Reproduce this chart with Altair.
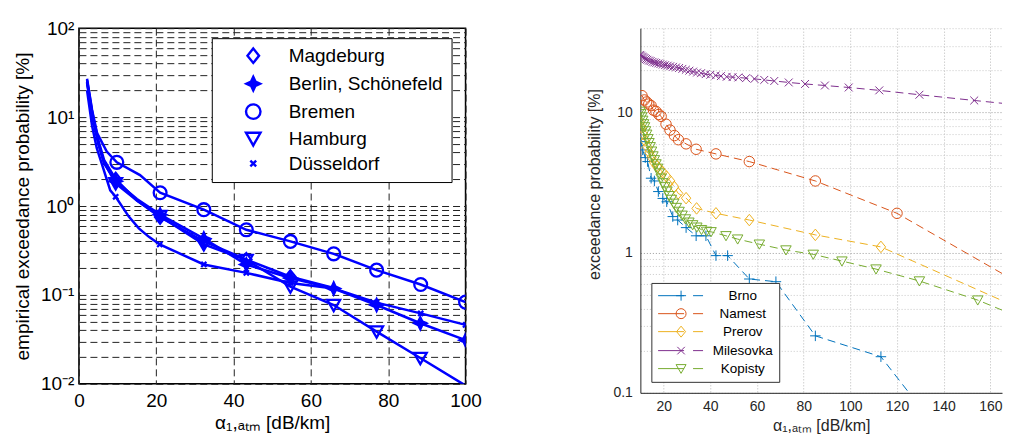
import altair as alt
import pandas as pd

# ---------------- left panel data (German stations) ----------------
L_SITES = ["Magdeburg", "Berlin, Schönefeld", "Bremen", "Hamburg", "Düsseldorf"]

mag_x = [2.1, 3.5, 5.0, 6.5, 9.5, 15.0, 21.0, 32.3, 43.3, 54.7, 65.9]
mag_y = [26, 11, 5.5, 3.3, 2.0, 1.15, 0.75, 0.40, 0.25, 0.16, 0.12]
mag_m = [0, 0, 0, 0, 1, 0, 1, 1, 1, 1, 0]

ber_x = [2.1, 3.5, 5.0, 6.5, 9.5, 15.0, 21.0, 32.3, 43.3, 54.7, 65.9, 77.0, 88.3, 100.0]
ber_y = [25, 10, 5.0, 3.0, 1.9, 1.2, 0.8, 0.43, 0.22, 0.155, 0.118, 0.077, 0.048, 0.031]
ber_m = [0, 0, 0, 0, 1, 0, 1, 1, 1, 1, 1, 1, 1, 1]

bre_x = [2.1, 3.4, 4.7, 7.2, 9.8, 15.8, 21.0, 32.3, 43.3, 54.7, 65.9, 77.0, 88.4, 100.0]
bre_y = [27, 12, 6.6, 4.1, 3.1, 2.23, 1.41, 0.91, 0.54, 0.40, 0.29, 0.19, 0.131, 0.083]
bre_m = [0, 0, 0, 0, 1, 0, 1, 1, 1, 1, 1, 1, 1, 1]

ham_x = [2.1, 3.5, 5.0, 6.5, 9.5, 15.0, 21.0, 32.3, 43.3, 54.7, 65.9, 77.0, 88.3, 99.6]
ham_y = [24, 10.5, 5.2, 3.1, 1.8, 1.15, 0.77, 0.37, 0.247, 0.124, 0.077, 0.0387, 0.0195, 0.0098]
ham_m = [0, 0, 0, 0, 1, 0, 1, 1, 1, 1, 1, 1, 1, 0]

due_x = [2.1, 3.4, 4.6, 5.9, 8.1, 9.5, 12.9, 15.5, 18.1, 20.9, 32.3, 43.3, 54.7, 65.9, 77.0, 88.4, 100.0]
due_y = [20, 8, 4.5, 3.0, 1.5, 1.27, 0.76, 0.56, 0.45, 0.37, 0.22, 0.177, 0.136, 0.118, 0.082, 0.062, 0.046]
due_m = [0, 0, 0, 0, 0, 1, 0, 0, 0, 1, 1, 1, 1, 1, 1, 1, 1]

L_XTICKS = [0, 20, 40, 60, 80, 100]
L_YTICKS = [0.01, 0.02, 0.03, 0.04, 0.05, 0.06, 0.07, 0.08, 0.09,
            0.1, 0.2, 0.3, 0.4, 0.5, 0.6, 0.7, 0.8, 0.9,
            1, 2, 3, 4, 5, 6, 7, 8, 9,
            10, 20, 30, 40, 50, 60, 70, 80, 90, 100]

# ---------------- right panel data (Czech stations) ----------------
R_SITES = ["Brno", "Namest", "Prerov", "Milesovka", "Kopisty"]
R_COLORS = ["#0072BD", "#D95319", "#EDB120", "#7E2F8E", "#77AC30"]

brno_x = [9.8, 10.3, 11.0, 12.1, 13.1, 14.6, 16.0, 17.7, 19.6, 21.3, 23.9, 26.0, 29.6, 33.9, 38.1,
          42.4, 47.4, 56.7, 68.1, 85.0, 113.1, 131.0]
brno_y = [6.5, 6.2, 5.41, 4.77, 4.47, 3.4, 3.25, 2.73, 2.44, 2.31, 1.81, 1.71, 1.51, 1.32, 1.32,
          0.953, 0.953, 0.649, 0.621, 0.255, 0.181, 0.075]

nam_x = [10.7, 11.7, 12.7, 13.6, 14.6, 15.6, 16.7, 17.9, 18.9, 21.0, 22.7, 24.6, 26.3, 29.6, 33.9,
         42.4, 56.7, 85.0, 120.0, 168.4]
nam_y = [13.2, 12.3, 11.9, 11.5, 11.2, 10.4, 10.2, 9.7, 9.4, 8.26, 7.5, 6.85, 6.4, 5.98, 5.47,
         5.07, 4.47, 3.25, 1.91, 0.66]

pre_x = [9.8, 10.5, 11.2, 12.0, 12.9, 13.8, 14.8, 15.9, 17.0, 18.3, 19.6, 21.2, 22.8, 24.5, 26.2,
         29.6, 34.1, 42.4, 56.7, 85.0, 113.1, 168.4]
pre_y = [8.5, 7.8, 7.0, 6.3, 5.7, 5.2, 4.8, 4.4, 4.15, 3.95, 3.75, 3.5, 3.25, 2.95, 2.65,
         2.45, 2.07, 1.91, 1.71, 1.34, 1.10, 0.43]

mil_x = [9.8, 10.2, 10.7, 11.2, 11.8, 12.4, 13.0, 13.7, 14.4, 15.2, 16.0, 16.8, 17.7, 18.6, 19.6,
         20.6, 21.7, 22.8, 24.0, 25.3, 26.6, 28.0, 29.5, 31.0, 32.6, 34.3, 36.0, 38.0, 40.0, 42.3,
         44.5, 47.0, 49.5, 52.0, 55.3, 58.9, 63.1, 67.4, 73.6, 80.6, 89.1, 99.3, 112.4, 129.6,
         153.1, 168.4]
mil_y = [25.8, 25.5, 25.1, 24.8, 24.5, 24.1, 23.8, 23.5, 23.3, 23.0, 22.8, 22.6, 22.4, 22.2, 22.0,
         21.8, 21.6, 21.4, 21.2, 21.0, 20.8, 20.5, 20.2, 19.9, 19.6, 19.3, 19.1, 18.8, 18.6, 18.4,
         18.2, 18.0, 17.9, 17.8, 17.6, 17.4, 17.1, 16.8, 16.4, 16.0, 15.6, 15.1, 14.4, 13.4,
         12.2, 11.5]

kop_x = [9.8, 10.2, 10.6, 11.0, 11.4, 11.8, 12.2, 12.7, 13.2, 13.7, 14.2, 14.8, 15.4, 16.0, 16.7,
         17.4, 18.1, 18.9, 19.7, 20.5, 21.4, 22.3, 23.3, 24.3, 25.4, 26.6, 27.9, 29.3, 30.8, 32.4,
         34.2, 36.2, 38.4, 40.3, 46.7, 51.7, 61.0, 72.4, 84.1, 96.4, 111.0, 129.6, 154.6, 168.4]
kop_y = [10.2, 9.8, 9.3, 8.8, 8.3, 7.9, 7.4, 7.0, 6.5, 6.1, 5.7, 5.3, 4.9, 4.6, 4.3,
         4.0, 3.7, 3.4, 3.15, 2.95, 2.75, 2.55, 2.4, 2.25, 2.1, 1.97, 1.85, 1.74, 1.65, 1.58,
         1.52, 1.46, 1.42, 1.41, 1.32, 1.25, 1.15, 1.045, 0.973, 0.871, 0.764, 0.628, 0.459, 0.369]

R_XTICKS = [20, 40, 60, 80, 100, 120, 140, 160]
R_YTICKS = [0.1, 0.2, 0.3, 0.4, 0.5, 0.6, 0.7, 0.8, 0.9,
            1, 2, 3, 4, 5, 6, 7, 8, 9,
            10, 20, 30, 40]

# ---------------- build tables ----------------
def table(site, xs, ys, ms=None):
    return pd.DataFrame({"x": xs, "y": ys, "site": site,
                         "m": ms if ms is not None else [1] * len(xs)})

dfl = pd.concat([table("Magdeburg", mag_x, mag_y, mag_m),
                 table("Berlin, Schönefeld", ber_x, ber_y, ber_m),
                 table("Bremen", bre_x, bre_y, bre_m),
                 table("Hamburg", ham_x, ham_y, ham_m),
                 table("Düsseldorf", due_x, due_y, due_m)], ignore_index=True)

dfr = pd.concat([table("Brno", brno_x, brno_y),
                 table("Namest", nam_x, nam_y),
                 table("Prerov", pre_x, pre_y),
                 table("Milesovka", mil_x, mil_y),
                 table("Kopisty", kop_x, kop_y)], ignore_index=True)

FONT = "Liberation Sans"
BLUE = "#0000FF"

# ---------------- left panel ----------------
STAR = "M0,-0.95L0.3,-0.3L0.95,0L0.3,0.3L0,0.95L-0.3,0.3L-0.95,0L-0.3,-0.3Z"
L_SHAPES = [
    "M0,-1L0.8,0L0,1L-0.8,0Z",
    STAR + "M0,-0.6V0.6M-0.6,0H0.6M-0.2,-0.2H0.2V0.2H-0.2Z",
    "M1,0A1,1,0,1,1,-1,0A1,1,0,1,1,1,0Z",
    "M-1,-0.8L1,-0.8L0,0.95Z",
    "M-0.4,-0.4L0.4,0.4M-0.4,0.4L0.4,-0.4",
]

xl = alt.X("x:Q", scale=alt.Scale(domain=[0, 100], nice=False),
           axis=alt.Axis(values=L_XTICKS, grid=True, gridDash=[7, 4], gridColor="#222222",
                         gridWidth=1, domain=False, ticks=False, labelFont=FONT,
                         labelFontSize=19, labelColor="black", labelPadding=8,
                         labelFlush=False,
                         title="α₁,ₐₜₘ [dB/km]", titleFont=FONT, titleFontSize=19,
                         titleFontWeight="normal", titleColor="black", titlePadding=3))
yl = alt.Y("y:Q", scale=alt.Scale(type="log", domain=[0.01, 100], nice=False),
           axis=alt.Axis(values=L_YTICKS, grid=True, gridDash=[7, 4], gridColor="#222222",
                         gridWidth=1, domain=False, ticks=False, labelFont=FONT,
                         labelFontSize=19, labelColor="black", labelPadding=5,
                         labelFlush=False,
                         labelExpr="datum.value==100?'10²':datum.value==10?'10¹':datum.value==1?'10⁰':datum.value==0.1?'10⁻¹':datum.value==0.01?'10⁻²':''",
                         title="empirical exceedance probability [%]", titleFont=FONT,
                         titleFontSize=19, titleFontWeight="normal", titleColor="black",
                         titlePadding=8))

leg_l = alt.Legend(orient="none", legendX=133, legendY=10, title=None, labelFont=FONT,
                   labelFontSize=19, labelColor="black", symbolSize=210,
                   symbolStrokeWidth=2.4, symbolStrokeColor=BLUE,
                   symbolFillColor="transparent", fillColor="white",
                   strokeColor="black", padding=8, rowPadding=3, symbolOffset=24,
                   labelOffset=26)

base_l = alt.Chart(dfl)
lines_l = base_l.mark_line(color=BLUE, strokeWidth=2.5, clip=True).encode(
    x=xl, y=yl, detail="site:N")
pts_l = base_l.transform_filter("datum.m == 1").mark_point(
    filled=False, stroke=BLUE, color=BLUE, strokeWidth=2.3, size=165, opacity=1,
    clip=True).encode(
    x=xl, y=yl,
    shape=alt.Shape("site:N", scale=alt.Scale(domain=L_SITES, range=L_SHAPES), legend=leg_l))
fill_l = base_l.transform_filter("datum.m == 1 && datum.site == 'Berlin, Schönefeld'").mark_point(
    filled=True, color=BLUE, shape=STAR, size=165, opacity=1, clip=True).encode(x=xl, y=yl)

left = alt.layer(lines_l, pts_l, fill_l).properties(
    width=387, height=356, view=alt.ViewBackground(stroke="black", strokeWidth=1.5))

# ---------------- right panel ----------------
R_SHAPES = [
    "M-1,0H1M0,-1V1",
    "M1,0A1,1,0,1,1,-1,0A1,1,0,1,1,1,0Z",
    "M0,-1.1L0.9,0L0,1.1L-0.9,0Z",
    "M-0.75,-0.75L0.75,0.75M-0.75,0.75L0.75,-0.75",
    "M-1,-0.8L1,-0.8L0,0.95Z",
]
LINE_PART = "M-4.6,0H0.6M2.4,0H4.4"
R_LEG_SHAPES = [LINE_PART + s for s in R_SHAPES]

xr = alt.X("x:Q", scale=alt.Scale(domain=[10, 165], nice=False),
           axis=alt.Axis(values=R_XTICKS, grid=True, gridDash=[1, 2], gridColor="#b8b8b8",
                         gridWidth=1, domain=True, domainColor="#262626", ticks=False,
                         labelFont=FONT, labelFontSize=14, labelColor="#262626",
                         labelPadding=7, labelFlush=False,
                         title="α₁,ₐₜₘ [dB/km]", titleFont=FONT,
                         titleFontSize=16, titleFontWeight="normal", titleColor="#262626",
                         titlePadding=4))
yr = alt.Y("y:Q", scale=alt.Scale(type="log", domain=[0.1, 40], nice=False),
           axis=alt.Axis(values=R_YTICKS, grid=True, gridDash=[1, 2],
                         gridColor={"condition": {"test": "datum.value==1 || datum.value==10",
                                                  "value": "#9a9a9a"},
                                    "value": "#c8c8c8"},
                         gridWidth=1, domain=True, domainColor="#262626", ticks=False,
                         labelFont=FONT, labelFontSize=14, labelColor="#262626",
                         labelPadding=8, labelFlush=False,
                         labelExpr="datum.value==0.1?'0.1':datum.value==1?'1':datum.value==10?'10':''",
                         title="exceedance probability [%]", titleFont=FONT, titleFontSize=16,
                         titleFontWeight="normal", titleColor="#262626", titlePadding=10,
                         titleY=156))

leg_r = alt.Legend(orient="none", legendX=11, legendY=255, title=None, labelFont=FONT,
                   labelFontSize=13.5, labelColor="black", labelAlign="center",
                   labelOffset=55, symbolOffset=17, symbolSize=100, symbolStrokeWidth=1,
                   rowPadding=3, padding=6, fillColor="white", strokeColor="#333333")

base_r = alt.Chart(dfr)
col_r = alt.Color("site:N", scale=alt.Scale(domain=R_SITES, range=R_COLORS), legend=None)
lines_r = base_r.mark_line(strokeWidth=1, strokeDash=[8, 5], clip=True).encode(
    x=xr, y=yr, color=col_r)
pts_r = base_r.mark_point(filled=False, strokeWidth=1, size=110, opacity=1, clip=True).encode(
    x=xr, y=yr, color=col_r,
    shape=alt.Shape("site:N", scale=alt.Scale(domain=R_SITES, range=R_SHAPES), legend=None))
key_r = base_r.transform_filter("datum.y < 0").mark_point(
    filled=False, strokeWidth=1, opacity=1).encode(
    x=xr, y=yr,
    color=alt.Color("site:N", scale=alt.Scale(domain=R_SITES, range=R_COLORS), legend=leg_r),
    shape=alt.Shape("site:N", scale=alt.Scale(domain=R_SITES, range=R_LEG_SHAPES), legend=leg_r))

right = alt.layer(lines_r, pts_r, key_r).resolve_scale(
    color="independent", shape="independent").properties(
    width=362, height=365, view=alt.ViewBackground(stroke="transparent"))

chart = alt.hconcat(left, right, spacing=175, bounds="flush").resolve_scale(
    color="independent", shape="independent").configure(
    padding={"left": 4, "top": 10, "right": 0, "bottom": 0},
    background="white")

chart.save("out.html", embed_options={"renderer": "svg", "actions": False})
